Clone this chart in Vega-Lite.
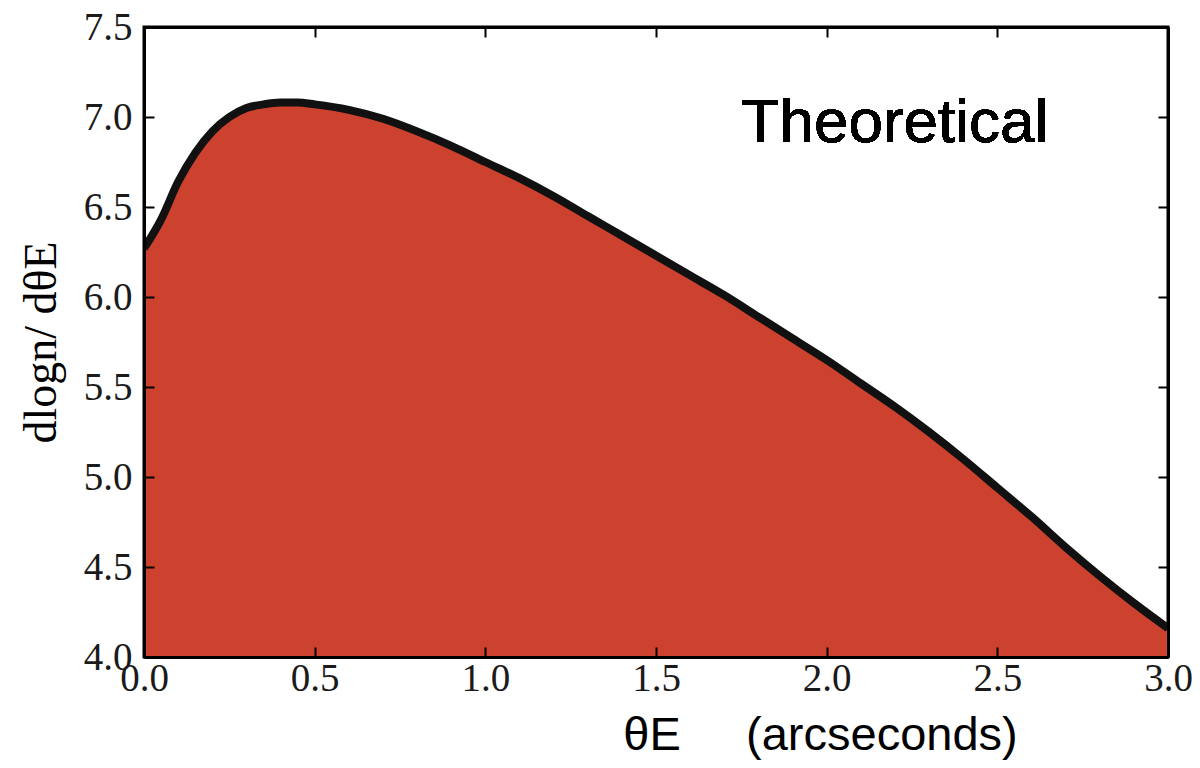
{
  "$schema": "https://vega.github.io/schema/vega-lite/v6.json",
  "width": 1024,
  "height": 630,
  "autosize": {"type": "none"},
  "padding": {"left": 144, "top": 27, "right": 32, "bottom": 111},
  "background": "white",
  "config": {
    "view": {"stroke": "black", "strokeWidth": 3},
    "axis": {
      "domainColor": "black", "domainWidth": 3,
      "tickColor": "black", "tickWidth": 2, "tickSize": -10,
      "grid": false, "zindex": 1,
      "labelFont": "Liberation Serif", "labelFontSize": 39, "labelColor": "#1a1a1a",
      "titleColor": "black", "titleFontWeight": "normal"
    }
  },
  "data": {"values": [
    {"theta": 0.0, "v": 6.27},
    {"theta": 0.05, "v": 6.43},
    {"theta": 0.1, "v": 6.64},
    {"theta": 0.15, "v": 6.8},
    {"theta": 0.2, "v": 6.92},
    {"theta": 0.25, "v": 7.0},
    {"theta": 0.3, "v": 7.05},
    {"theta": 0.35, "v": 7.07},
    {"theta": 0.4, "v": 7.08},
    {"theta": 0.45, "v": 7.08},
    {"theta": 0.5, "v": 7.07},
    {"theta": 0.6, "v": 7.04},
    {"theta": 0.7, "v": 6.99},
    {"theta": 0.8, "v": 6.92},
    {"theta": 0.9, "v": 6.84},
    {"theta": 1.0, "v": 6.75},
    {"theta": 1.1, "v": 6.66},
    {"theta": 1.2, "v": 6.56},
    {"theta": 1.3, "v": 6.45},
    {"theta": 1.4, "v": 6.34},
    {"theta": 1.5, "v": 6.23},
    {"theta": 1.6, "v": 6.12},
    {"theta": 1.7, "v": 6.01},
    {"theta": 1.8, "v": 5.89},
    {"theta": 1.9, "v": 5.77},
    {"theta": 2.0, "v": 5.65},
    {"theta": 2.1, "v": 5.52},
    {"theta": 2.2, "v": 5.39},
    {"theta": 2.3, "v": 5.25},
    {"theta": 2.4, "v": 5.1},
    {"theta": 2.5, "v": 4.94},
    {"theta": 2.6, "v": 4.78},
    {"theta": 2.7, "v": 4.61},
    {"theta": 2.8, "v": 4.45},
    {"theta": 2.9, "v": 4.3},
    {"theta": 3.0, "v": 4.16}
  ]},
  "resolve": {"axis": {"x": "independent", "y": "independent"}},
  "layer": [
    {
      "mark": {"type": "area", "color": "#cd422e", "interpolate": "monotone", "clip": true},
      "encoding": {
        "x": {"field": "theta", "type": "quantitative",
              "scale": {"domain": [0, 3], "nice": false},
              "axis": {"orient": "bottom", "values": [0, 0.5, 1, 1.5, 2, 2.5, 3], "format": ".1f",
                       "ticks": true, "tickSize": -10, "zindex": 2,
                       "labelPadding": 12, "labelFlush": false,
                       "title": "θE\u00a0\u00a0\u00a0\u00a0\u00a0(arcseconds)", "titleFont": "Liberation Sans", "titleFontSize": 47,
                       "titleX": 676, "titleY": 92, "titleAnchor": "middle", "titleBaseline": "alphabetic"}},
        "y": {"field": "v", "type": "quantitative",
              "scale": {"domain": [4, 7.5], "nice": false, "zero": false},
              "axis": {"orient": "left", "values": [4, 4.5, 5, 5.5, 6, 6.5, 7, 7.5], "format": ".1f",
                       "ticks": true, "tickSize": -10, "zindex": 2,
                       "labelPadding": 22, "labelFlush": false,
                       "title": "dlogn/ dθE", "titleFont": "Liberation Serif", "titleFontSize": 46,
                       "titlePadding": 18}},
        "y2": {"datum": 4}
      }
    },
    {
      "mark": {"type": "line", "color": "#111111", "strokeWidth": 8, "interpolate": "monotone", "clip": true},
      "encoding": {
        "x": {"field": "theta", "type": "quantitative",
              "axis": {"orient": "top", "values": [0, 0.5, 1, 1.5, 2, 2.5, 3], "labels": false, "title": null,
                       "ticks": true, "tickSize": -10, "zindex": 2}},
        "y": {"field": "v", "type": "quantitative",
              "axis": {"orient": "right", "values": [4, 4.5, 5, 5.5, 6, 6.5, 7, 7.5], "labels": false, "title": null,
                       "ticks": true, "tickSize": -10, "zindex": 2}}
      }
    },
    {
      "mark": {"type": "text", "text": "Theoretical", "font": "Liberation Sans", "fontSize": 62,
               "align": "center", "baseline": "alphabetic", "color": "black"},
      "encoding": {
        "x": {"datum": 2.2, "type": "quantitative", "axis": null},
        "y": {"datum": 6.86, "type": "quantitative", "axis": null}
      }
    }
  ]
}
